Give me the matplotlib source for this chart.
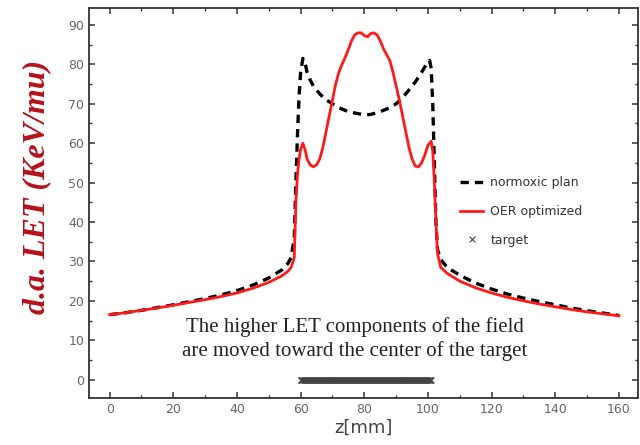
import matplotlib.pyplot as plt
import numpy as np

# depth along beam (mm) and dose-averaged LET values
z_oer = [0, 5, 10, 15, 20, 25, 30, 35, 40, 45, 50, 54, 56, 57, 58, 58.5, 59, 59.5, 60, 60.7,
         61.5, 62, 63, 64, 65, 66, 67, 68, 69, 70, 71, 72, 73, 74, 75, 76, 77, 78, 79, 80,
         81, 82, 83, 84, 85, 86, 87, 88, 89, 90, 91, 92, 93, 94, 95, 96, 97, 98, 99, 100,
         101, 101.5, 102, 102.5, 103, 104, 106, 110, 115, 120, 125, 130, 135, 140, 145,
         150, 155, 160]
let_oer = [16.5, 17.0, 17.6, 18.2, 18.9, 19.6, 20.3, 21.1, 22.0, 23.2, 24.7, 26.3, 27.5, 28.5,
           31, 45, 52, 56, 58.5, 60,
           58, 56, 54.5, 54, 54.5, 56, 59, 63, 67, 71, 75, 78, 80, 81.8, 83.8, 86, 87.5, 88,
           88, 87.3, 87, 87.8, 88, 87.5, 86, 84, 82.5, 81, 78, 74.5, 71, 67, 63, 59, 56, 54.2,
           54, 55, 57, 59.5, 60.5, 58, 50, 40, 32, 28.5, 27, 25, 23.3, 22, 20.9, 20, 19.2,
           18.5, 17.8, 17.2, 16.7, 16.2]

z_norm = [0, 5, 10, 15, 20, 25, 30, 35, 40, 45, 50, 54, 56, 57, 58, 58.5, 59, 59.5, 60, 60.7,
          61.5, 62, 63, 64, 66, 68, 70, 72, 75, 78, 80, 82, 85, 88, 90, 92, 94, 96, 98, 99.5,
          100.5, 101, 101.5, 102, 102.5, 103, 104, 106, 110, 115, 120, 125, 130, 135, 140,
          145, 150, 155, 160]
let_norm = [16.5, 17.0, 17.6, 18.3, 19.0, 19.8, 20.6, 21.5, 22.6, 24.0, 25.8, 27.8, 29.5, 31,
            36, 50, 62, 72, 78, 81.5,
            80, 78, 76, 74.5, 72.5, 71, 70, 69, 68, 67.5, 67.2, 67.3, 68, 69, 70, 71.5, 73.5,
            75.5, 78, 80, 81, 79, 70, 55, 40, 33, 30.5, 28.5, 26.5, 24.5, 23, 21.7, 20.7, 19.8,
            19.0, 18.2, 17.5, 16.9, 16.3]

# target region markers
z_target = np.arange(60, 101.25, 0.25)
y_target = np.zeros_like(z_target)

fig = plt.figure(figsize=(6.4, 4.45), dpi=100)
ax = fig.add_axes([0.139, 0.106, 0.858, 0.876])

ax.plot(z_norm, let_norm, color='black', lw=2.4, ls=(0, (2.5, 1.8)), label='normoxic plan')
ax.plot(z_oer, let_oer, color='#ff1a1a', lw=2.0, label='OER optimized')
ax.plot(z_target, y_target, ls='none', marker='x', ms=5, mew=0.8, color='#444444',
        label='target')

ax.set_xlim(-6.5, 166)
ax.set_ylim(-4.6, 94.3)
ax.set_xticks(np.arange(0, 161, 20))
ax.set_xticks(np.arange(0, 161, 10), minor=True)
ax.set_yticks(np.arange(0, 91, 10))
ax.set_yticks(np.arange(0, 91, 5), minor=True)
ax.tick_params(which='both', direction='in', top=True, right=True, colors='#333333',
               labelcolor='#666666', labelsize=9)
ax.tick_params(which='major', length=4, width=1.1)
ax.tick_params(which='minor', length=2.5, width=1.0)
for s in ax.spines.values():
    s.set_color('#333333')
    s.set_linewidth(1.3)

ax.set_xlabel('z[mm]', fontsize=13, color='#444444', labelpad=2)
ax.set_ylabel('d.a. LET (KeV/mu)', fontsize=23, color='#b5121b', family='Liberation Serif',
              fontweight='bold', fontstyle='italic')
ax.yaxis.set_label_coords(-0.068, 0.54)

ax.text(77, 10.3, 'The higher LET components of the field\nare moved toward the center of the target',
        ha='center', va='center', fontsize=15, family='Liberation Serif', color='#222222',
        linespacing=1.3)

leg = ax.legend(loc='center left', bbox_to_anchor=(0.656, 0.478), frameon=False, fontsize=9,
                handlelength=1.8, labelspacing=1.25, handletextpad=0.6)
for t in leg.get_texts():
    t.set_color('#333333')

fig.savefig('out.png', dpi=100)
